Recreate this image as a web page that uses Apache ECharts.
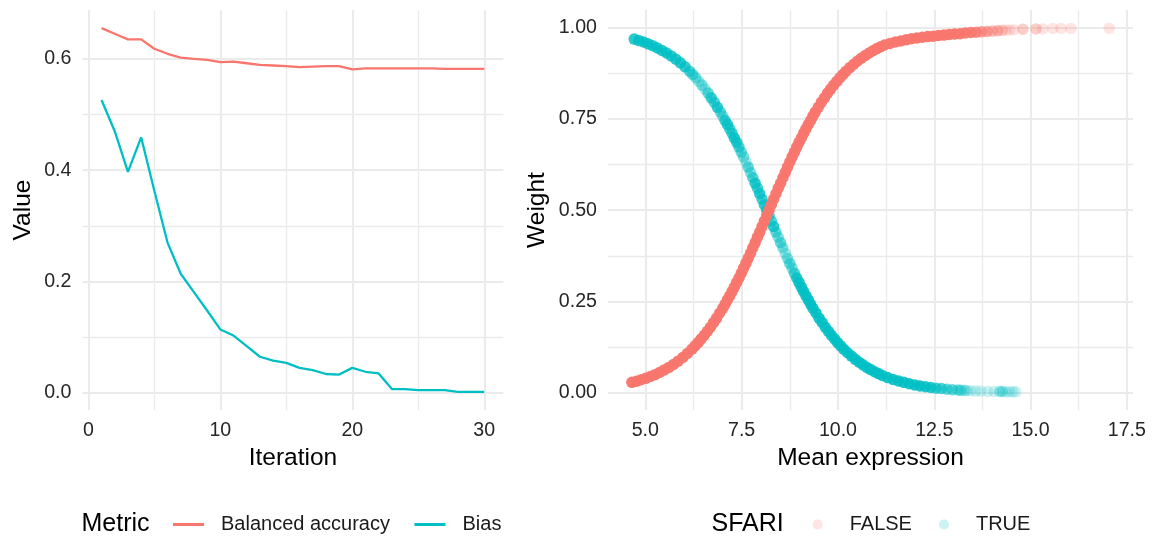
<!DOCTYPE html>
<html>
<head>
<meta charset="utf-8">
<script src="https://cdn.jsdelivr.net/npm/echarts@6/dist/echarts.min.js"></script>
<style>
  html, body { margin: 0; padding: 0; background: #ffffff; }
  #chart { width: 1162px; height: 536px; }
</style>
</head>
<body>
<div id="chart"></div>
<script>
// ---- Left panel: model metrics per iteration ----
const iterations = [1, 2, 3, 4, 5, 6, 7, 8, 9, 10, 11, 12, 13, 14, 15,
                    16, 17, 18, 19, 20, 21, 22, 23, 24, 25, 26, 27, 28, 29, 30];
const balancedAccuracy = [0.655, 0.645, 0.635, 0.635, 0.618, 0.609, 0.602, 0.600, 0.598, 0.594,
                          0.595, 0.592, 0.589, 0.588, 0.587, 0.585, 0.586, 0.587, 0.587, 0.581,
                          0.583, 0.583, 0.583, 0.583, 0.583, 0.583, 0.582, 0.582, 0.582, 0.582];
const bias = [0.526, 0.470, 0.397, 0.459, 0.363, 0.270, 0.214, 0.181, 0.148, 0.114,
              0.103, 0.084, 0.065, 0.058, 0.054, 0.045, 0.041, 0.034, 0.033, 0.045,
              0.038, 0.035, 0.007, 0.007, 0.005, 0.005, 0.005, 0.002, 0.002, 0.002];
const iterationTicks = [0, 10, 20, 30];
const iterationMinorTicks = [5, 15, 25];
const valueTicks = [0, 0.2, 0.4, 0.6];
const valueMinorTicks = [0.1, 0.3, 0.5];

// ---- Right panel: gene weight vs mean expression ----
// each entry: [mean expression, weight, number of genes drawn at that spot]
const sfariFalse = [
  [4.65,0.028,16],[4.77,0.031,16],[4.89,0.035,16],[5.01,0.039,16],[5.13,0.044,16],[5.25,0.049,16],
  [5.37,0.055,16],[5.49,0.062,16],[5.61,0.069,16],[5.73,0.077,16],[5.85,0.086,16],[5.97,0.096,16],
  [6.09,0.107,16],[6.21,0.119,16],[6.29,0.128,16],[6.37,0.137,16],[6.45,0.147,16],[6.53,0.157,16],
  [6.61,0.168,16],[6.69,0.179,16],[6.77,0.192,16],[6.85,0.204,16],[6.93,0.218,16],[7.01,0.231,16],
  [7.07,0.242,16],[7.13,0.254,16],[7.19,0.265,16],[7.25,0.277,16],[7.31,0.289,16],[7.37,0.302,16],
  [7.43,0.314,16],[7.49,0.327,16],[7.55,0.341,16],[7.61,0.354,16],[7.67,0.368,16],[7.73,0.382,16],
  [7.79,0.397,16],[7.85,0.411,16],[7.91,0.426,16],[7.97,0.440,16],[8.03,0.455,16],[8.09,0.470,16],
  [8.15,0.485,16],[8.21,0.500,16],[8.27,0.515,16],[8.33,0.530,16],[8.39,0.545,16],[8.45,0.560,16],
  [8.51,0.574,16],[8.57,0.589,16],[8.63,0.603,16],[8.69,0.618,16],[8.75,0.632,16],[8.81,0.646,16],
  [8.87,0.659,16],[8.93,0.673,16],[8.99,0.686,16],[9.05,0.698,16],[9.11,0.711,16],[9.17,0.723,16],
  [9.23,0.735,16],[9.29,0.746,16],[9.35,0.758,16],[9.41,0.769,16],[9.49,0.782,16],[9.57,0.796,16],
  [9.65,0.808,16],[9.73,0.821,16],[9.81,0.832,16],[9.89,0.843,16],[9.97,0.853,16],[10.05,0.863,16],
  [10.13,0.872,16],[10.21,0.881,16],[10.31,0.891,16],[10.41,0.900,16],[10.51,0.909,16],[10.61,0.917,16],
  [10.71,0.924,16],[10.81,0.931,16],[10.91,0.937,16],[11.01,0.943,16],[11.11,0.948,16],[11.21,0.953,16],
  [11.35,0.957,16],[11.49,0.961,16],[11.63,0.964,16],[11.77,0.967,16],[11.91,0.970,16],[12.05,0.972,16],
  [12.19,0.974,16],[12.33,0.976,16],[12.47,0.977,16],[12.61,0.979,16],[12.75,0.980,16],[12.89,0.982,16],
  [13.03,0.983,16],[13.17,0.984,14],[13.31,0.986,12],[13.45,0.987,10],[13.59,0.988,7],[13.73,0.989,5],
  [13.87,0.990,4],[14.01,0.991,3],[14.15,0.992,3],[14.27,0.993,2],[14.37,0.994,1],[14.46,0.994,1],
  [14.57,0.995,1],[14.80,0.996,2],[15.14,0.997,2],[15.32,0.997,1],[15.58,0.998,1],[15.79,0.998,1],
  [16.05,0.998,1],[17.04,0.999,1]
];
const sfariTrue = [
  [4.71,0.969,8],[4.83,0.965,8],[4.95,0.961,8],[5.07,0.956,8],[5.19,0.951,8],[5.31,0.945,8],
  [5.43,0.938,8],[5.55,0.931,8],[5.67,0.923,8],[5.79,0.914,8],[5.91,0.904,8],[6.03,0.893,7],
  [6.15,0.881,5],[6.23,0.872,4],[6.31,0.863,3],[6.39,0.853,2],[6.47,0.843,3],[6.55,0.832,2],
  [6.63,0.821,4],[6.71,0.808,6],[6.79,0.796,5],[6.87,0.782,7],[6.95,0.769,4],[7.01,0.758,3],
  [7.07,0.746,6],[7.13,0.735,7],[7.19,0.723,5],[7.25,0.711,6],[7.31,0.698,8],[7.37,0.686,7],
  [7.43,0.673,5],[7.49,0.659,4],[7.55,0.646,3],[7.61,0.632,2],[7.67,0.618,4],[7.73,0.603,3],
  [7.79,0.589,5],[7.85,0.574,7],[7.91,0.560,6],[7.97,0.545,8],[8.03,0.530,6],[8.09,0.515,7],
  [8.15,0.500,8],[8.21,0.485,6],[8.27,0.470,5],[8.33,0.455,7],[8.39,0.440,4],[8.45,0.426,3],
  [8.51,0.411,4],[8.57,0.397,3],[8.63,0.382,2],[8.69,0.368,3],[8.75,0.354,4],[8.81,0.341,3],
  [8.87,0.327,5],[8.93,0.314,8],[8.99,0.302,10],[9.05,0.289,10],[9.11,0.277,10],[9.17,0.265,10],
  [9.23,0.254,10],[9.29,0.242,10],[9.35,0.231,10],[9.43,0.218,10],[9.51,0.204,10],[9.59,0.192,10],
  [9.67,0.179,10],[9.75,0.168,10],[9.83,0.157,10],[9.91,0.147,10],[9.99,0.137,10],[10.07,0.128,10],
  [10.15,0.119,10],[10.25,0.109,10],[10.35,0.100,10],[10.45,0.091,10],[10.55,0.083,10],[10.65,0.076,10],
  [10.75,0.069,10],[10.85,0.063,10],[10.95,0.057,10],[11.05,0.052,10],[11.15,0.047,10],[11.29,0.041,10],
  [11.43,0.036,10],[11.57,0.032,10],[11.71,0.028,10],[11.85,0.024,10],[11.99,0.021,10],[12.13,0.018,10],
  [12.27,0.016,9],[12.41,0.014,8],[12.55,0.012,6],[12.69,0.011,5],[12.83,0.009,4],[12.97,0.008,4],
  [13.11,0.007,3],[13.19,0.006,3],[13.29,0.006,2],[13.36,0.005,1],[13.45,0.005,1],[13.58,0.004,1],
  [13.71,0.004,1],[13.89,0.003,1],[14.05,0.003,1],[14.20,0.003,2],[14.27,0.003,2],[14.36,0.002,1],
  [14.45,0.002,1],[14.54,0.002,1],[14.62,0.002,1]
];
const expressionTicks = [5, 7.5, 10, 12.5, 15, 17.5];
const expressionMinorTicks = [6.25, 8.75, 11.25, 13.75, 16.25];
const weightTicks = [0, 0.25, 0.5, 0.75, 1];
const weightMinorTicks = [0.125, 0.375, 0.625, 0.875];

// ---- styling ----
const FONT = '"Liberation Sans", Arial, Helvetica, sans-serif';
const RED = '#F8766D';
const CYAN = '#00BFC4';
const GRID_COLOR = '#EBEBEB';
const TICK_COLOR = '#262626';
const POINT_ALPHA = 0.2;

// data range widened by 5% on each side
function paddedRange(values, frac) {
  const lo = Math.min(...values), hi = Math.max(...values);
  const pad = (hi - lo) * frac;
  return [lo - pad, hi + pad];
}

function mainAxis(gridIndex, position, range, ticks, decimals, name, nameGap, labelMargin) {
  return {
    type: 'value', gridIndex, position, min: range[0], max: range[1],
    name, nameLocation: 'middle', nameGap,
    nameTextStyle: { fontFamily: FONT, fontSize: 24.5, color: '#000000' },
    axisLine: { show: false },
    axisTick: { show: false, customValues: ticks },
    axisLabel: {
      customValues: ticks, margin: labelMargin,
      formatter: v => Number(v).toFixed(decimals),
      fontFamily: FONT, fontSize: 19.6, color: TICK_COLOR
    },
    splitLine: { show: true, lineStyle: { color: GRID_COLOR, width: 2.1 } }
  };
}

// second axis on the same grid, only used for the thinner minor grid lines
function minorAxis(gridIndex, range, ticks) {
  return {
    type: 'value', gridIndex, min: range[0], max: range[1],
    axisLine: { show: false },
    axisTick: { show: false, customValues: ticks },
    axisLabel: { show: false },
    splitLine: { show: true, lineStyle: { color: GRID_COLOR, width: 1.3 } }
  };
}

const iterRange = paddedRange(iterations, 0.05);
const valueRange = paddedRange(balancedAccuracy.concat(bias), 0.05);
const exprRange = paddedRange(sfariFalse.map(d => d[0]).concat(sfariTrue.map(d => d[0])), 0.05);
const weightRange = paddedRange(sfariFalse.map(d => d[1]).concat(sfariTrue.map(d => d[1])), 0.05);

// overlapping genes build up colour like stacked translucent points
function pointData(rows) {
  return rows.map(([x, y, n]) => ({
    value: [x, y],
    itemStyle: { opacity: 1 - Math.pow(1 - POINT_ALPHA, n) }
  }));
}

const chart = echarts.init(document.getElementById('chart'), null, { renderer: 'canvas' });

const legendText = { fontFamily: FONT, fontSize: 20, color: '#1A1A1A' };

chart.setOption({
  animation: false,
  backgroundColor: '#ffffff',
  grid: [
    { left: 82.4, top: 10, width: 421, height: 400, outerBoundsMode: 'none', containLabel: false },
    { left: 608, top: 10, width: 525, height: 400, outerBoundsMode: 'none', containLabel: false }
  ],
  xAxis: [
    mainAxis(0, 'bottom', iterRange, iterationTicks, 0, 'Iteration', 28, 11),
    minorAxis(0, iterRange, iterationMinorTicks),
    mainAxis(1, 'bottom', exprRange, expressionTicks, 1, 'Mean expression', 28, 11),
    minorAxis(1, exprRange, expressionMinorTicks)
  ],
  yAxis: [
    mainAxis(0, 'left', valueRange, valueTicks, 1, 'Value', 47, 11),
    minorAxis(0, valueRange, valueMinorTicks),
    mainAxis(1, 'left', weightRange, weightTicks, 2, 'Weight', 58, 11),
    minorAxis(1, weightRange, weightMinorTicks)
  ],
  legend: [
    {
      data: ['Balanced accuracy', 'Bias'],
      left: 173, top: 514.5, padding: 0, orient: 'horizontal',
      icon: 'rect', itemWidth: 31, itemHeight: 3, itemGap: 24.5,
      selectedMode: false,
      textStyle: Object.assign({ padding: [0, 0, 0, 12] }, legendText)
    },
    {
      data: [
        { name: 'FALSE', itemStyle: { opacity: POINT_ALPHA } },
        { name: 'TRUE', itemStyle: { opacity: POINT_ALPHA } }
      ],
      left: 812.7, top: 514.5, padding: 0, orient: 'horizontal',
      icon: 'circle', itemWidth: 10, itemHeight: 10, itemGap: 27,
      selectedMode: false,
      textStyle: Object.assign({ padding: [0, 0, 0, 22] }, legendText)
    }
  ],
  graphic: [
    { type: 'text', x: 81.5, y: 524.5, silent: true,
      style: { text: 'Metric', font: '25px ' + FONT, fill: '#000000', verticalAlign: 'middle' } },
    { type: 'text', x: 711.5, y: 524.5, silent: true,
      style: { text: 'SFARI', font: '25px ' + FONT, fill: '#000000', verticalAlign: 'middle' } }
  ],
  series: [
    {
      name: 'Balanced accuracy', type: 'line', xAxisIndex: 0, yAxisIndex: 0,
      data: iterations.map((it, i) => [it, balancedAccuracy[i]]),
      symbol: 'none', silent: true,
      itemStyle: { color: RED }, lineStyle: { color: RED, width: 2.3 }
    },
    {
      name: 'Bias', type: 'line', xAxisIndex: 0, yAxisIndex: 0,
      data: iterations.map((it, i) => [it, bias[i]]),
      symbol: 'none', silent: true,
      itemStyle: { color: CYAN }, lineStyle: { color: CYAN, width: 2.3 }
    },
    {
      name: 'TRUE', type: 'scatter', xAxisIndex: 2, yAxisIndex: 2,
      symbol: 'circle', symbolSize: 11.5, silent: true,
      itemStyle: { color: CYAN, opacity: POINT_ALPHA },
      data: pointData(sfariTrue)
    },
    {
      name: 'FALSE', type: 'scatter', xAxisIndex: 2, yAxisIndex: 2,
      symbol: 'circle', symbolSize: 11.5, silent: true,
      itemStyle: { color: RED, opacity: POINT_ALPHA },
      data: pointData(sfariFalse)
    }
  ]
});
</script>
</body>
</html>
